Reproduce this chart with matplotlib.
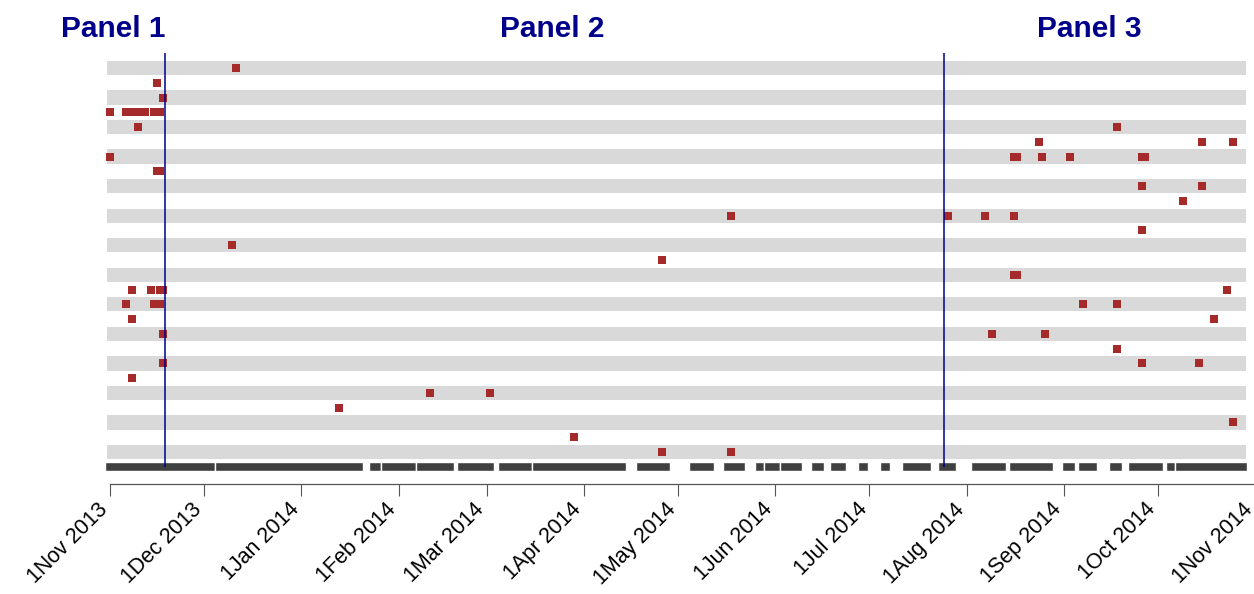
import matplotlib
matplotlib.use('Agg')
import matplotlib.pyplot as plt
import matplotlib.dates as mdates
import matplotlib.transforms as mtransforms
import pandas as pd

plt.rcParams['font.family'] = ['Liberation Sans', 'DejaVu Sans']

# --- data ---------------------------------------------------------------
# one event = (row, date); row 0 is the top line
event_row = [0,
             1,
             2,
             3, 3, 3, 3, 3, 3, 3, 3, 3, 3, 3,
             4, 4,
             5, 5, 5,
             6, 6, 6, 6, 6, 6, 6,
             7, 7,
             8, 8,
             9,
             10, 10, 10, 10,
             11,
             12,
             13,
             14, 14,
             15, 15, 15, 15, 15,
             16, 16, 16, 16, 16, 16,
             17, 17,
             18, 18, 18,
             19,
             20, 20, 20,
             21,
             22, 22,
             23,
             24,
             25,
             26, 26]
event_date = ['2013-12-11',
              '2013-11-16',
              '2013-11-18',
              '2013-11-01', '2013-11-06', '2013-11-07', '2013-11-08', '2013-11-09',
              '2013-11-10', '2013-11-11', '2013-11-12', '2013-11-15', '2013-11-16', '2013-11-17',
              '2013-11-10', '2014-09-18',
              '2014-08-24', '2014-10-15', '2014-10-25',
              '2013-11-01', '2014-08-16', '2014-08-17', '2014-08-25', '2014-09-03',
              '2014-09-26', '2014-09-27',
              '2013-11-16', '2013-11-17',
              '2014-09-26', '2014-10-15',
              '2014-10-09',
              '2014-05-18', '2014-07-26', '2014-08-07', '2014-08-16',
              '2014-09-26',
              '2013-12-10',
              '2014-04-26',
              '2014-08-16', '2014-08-17',
              '2013-11-08', '2013-11-14', '2013-11-17', '2013-11-18', '2014-10-23',
              '2013-11-06', '2013-11-15', '2013-11-16', '2013-11-17', '2014-09-07', '2014-09-18',
              '2013-11-08', '2014-10-19',
              '2013-11-18', '2014-08-09', '2014-08-26',
              '2014-09-18',
              '2013-11-18', '2014-09-26', '2014-10-14',
              '2013-11-08',
              '2014-02-11', '2014-03-02',
              '2014-01-13',
              '2014-10-25',
              '2014-03-29',
              '2014-04-26', '2014-05-18']

# coverage segments drawn as the dark bar at the bottom
seg_start = ['2013-10-30 12:00', '2013-12-04 12:00', '2014-01-22 12:00', '2014-01-26 12:00',
             '2014-02-06 12:00', '2014-02-19 12:00', '2014-03-04 12:00', '2014-03-15 12:00',
             '2014-04-17 12:00', '2014-05-04 12:00', '2014-05-15 12:00', '2014-05-25 12:00',
             '2014-05-28 12:00', '2014-06-02 12:00', '2014-06-12 12:00', '2014-06-18 12:00',
             '2014-06-27 12:00', '2014-07-04 12:00', '2014-07-11 12:00', '2014-07-23 00:00',
             '2014-08-02 12:00', '2014-08-14 12:00', '2014-08-31 12:00', '2014-09-05 12:00',
             '2014-09-15 12:00', '2014-09-21 12:00', '2014-10-03 12:00', '2014-10-06 12:00']
seg_end = ['2013-12-04 12:00', '2014-01-20 12:00', '2014-01-26 12:00', '2014-02-06 12:00',
           '2014-02-18 12:00', '2014-03-03 12:00', '2014-03-15 12:00', '2014-04-14 12:00',
           '2014-04-28 12:00', '2014-05-12 12:00', '2014-05-22 12:00', '2014-05-28 12:00',
           '2014-06-02 12:00', '2014-06-09 12:00', '2014-06-16 12:00', '2014-06-23 12:00',
           '2014-06-30 12:00', '2014-07-07 12:00', '2014-07-20 12:00', '2014-07-28 12:00',
           '2014-08-13 12:00', '2014-08-28 12:00', '2014-09-04 12:00', '2014-09-11 12:00',
           '2014-09-19 12:00', '2014-10-02 12:00', '2014-10-06 12:00', '2014-10-29 12:00']

n_rows = 27
band_start = '2013-10-31'
band_end = '2014-10-29'

panel_break = ['2013-11-18 15:00', '2014-07-24 19:00']
panel_names = ['Panel 1', 'Panel 2', 'Panel 3']
panel_label_x = ['2013-11-02', '2014-03-22', '2014-09-09']

tick_dates = ['2013-11-01', '2013-12-01', '2014-01-01', '2014-02-01', '2014-03-01',
              '2014-04-01', '2014-05-01', '2014-06-01', '2014-07-01', '2014-08-01',
              '2014-09-01', '2014-10-01', '2014-11-01']
tick_labels = ['1Nov 2013', '1Dec 2013', '1Jan 2014', '1Feb 2014', '1Mar 2014',
               '1Apr 2014', '1May 2014', '1Jun 2014', '1Jul 2014', '1Aug 2014',
               '1Sep 2014', '1Oct 2014', '1Nov 2014']


def num(d):
    return mdates.date2num(pd.to_datetime(d))


# --- figure -------------------------------------------------------------
W, H = 1254, 594
fig = plt.figure(figsize=(W / 100, H / 100), dpi=100)
# axes a little wider than the figure so that the last tick stays inside xlim
ax = fig.add_axes([0, 1 - 484 / H, 1258 / W, (484 - 53) / H])

px_per_day = 3.1377
x0 = num('2013-11-01') - 110 / px_per_day
ax.set_xlim(x0, x0 + 1258 / px_per_day)
ax.set_ylim(28.17, -1.02)

# alternating grey bands
band_rows = list(range(0, n_rows, 2))
ax.barh(band_rows, num(band_end) - num(band_start), left=num(band_start),
        height=0.97, color='#d9d9d9', zorder=1)

# coverage bar
starts = num(seg_start)
ends = num(seg_end)
ax.barh([n_rows] * len(starts), ends - starts, left=starts, height=0.64,
        color='#404040', edgecolor='white', linewidth=1.0, zorder=2)

# events
ax.scatter(num(event_date), event_row, marker='s', s=28, color='#a52a2a',
           linewidths=0, zorder=3)

# panel separators
ax.vlines(num(panel_break), n_rows, -1.02, color='#00008b', lw=1.1, zorder=4)

# panel titles
trans = mtransforms.blended_transform_factory(ax.transData, fig.transFigure)
for x, name in zip(num(panel_label_x), panel_names):
    ax.text(x, 1 - 37.3 / H, name, transform=trans, ha='center', va='baseline',
            fontsize=21.5, fontweight='bold', color='#00008b')

# axis in R style: line only from first to last tick
for s in ['left', 'top', 'right']:
    ax.spines[s].set_visible(False)
ax.spines['bottom'].set_bounds(num(tick_dates[0]), num(tick_dates[-1]))
ax.spines['bottom'].set_color('#555555')
ax.spines['bottom'].set_linewidth(0.9)
ax.set_yticks([])
ax.set_xticks(num(tick_dates))
ax.set_xticklabels(tick_labels, rotation=45, ha='right', va='center',
                   rotation_mode='anchor', fontsize=15.5)
ax.tick_params(axis='x', length=8.6, width=0.8, color='#555555', pad=7.5)
# nudge the rotated labels a bit to the left
shift = mtransforms.ScaledTranslation(-5.5 / 100, 0, fig.dpi_scale_trans)
for lab in ax.get_xticklabels():
    lab.set_transform(lab.get_transform() + shift)

fig.savefig('out.png', dpi=100)
